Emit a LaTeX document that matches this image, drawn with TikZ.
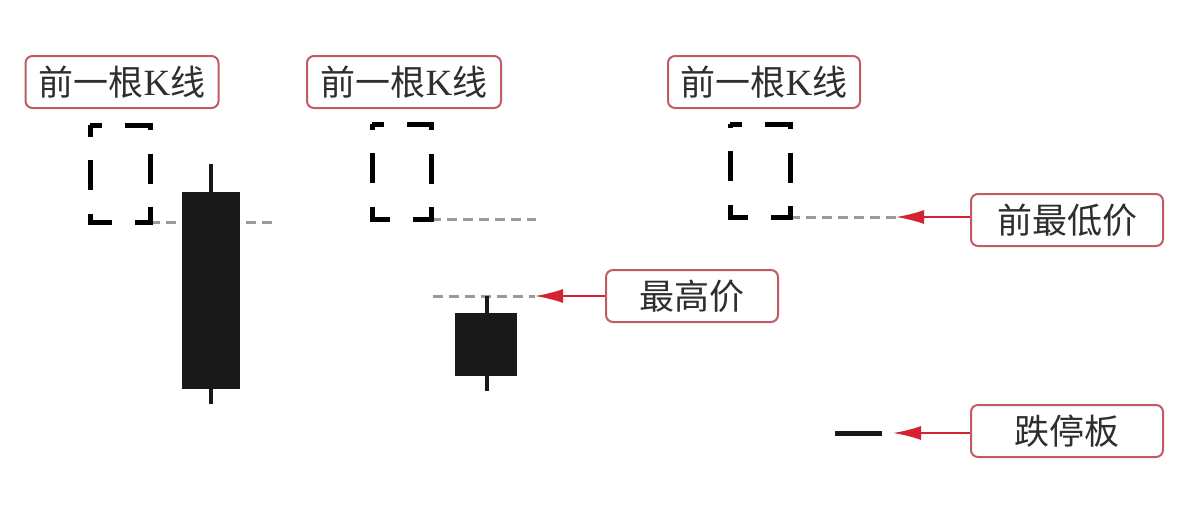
\documentclass[tikz,border=0pt]{standalone}
\usepackage{fontspec}
\setmainfont{Liberation Serif}
\newfontfamily\cjk{Noto Sans CJK SC}
\usetikzlibrary{arrows.meta}
\definecolor{boxred}{HTML}{C25A66}
\definecolor{arrred}{HTML}{D42232}
\definecolor{txtgray}{HTML}{2E2E2E}
\definecolor{dashgray}{HTML}{9A9A9A}
\tikzset{
  lbl/.style={draw=boxred, line width=2pt, rounded corners=7pt, fill=white,
    text=txtgray, inner sep=0pt, font=\cjk\fontsize{35}{38}\selectfont},
  prevbox/.style={line width=5pt, dash pattern=on 30pt off 23.33pt, dash phase=18pt},
  candle/.style={fill=black!90, draw=black!90, line width=1pt, inner sep=0pt},
  wick/.style={line width=4pt, black!90},
  refline/.style={line width=3pt, dashgray, dash pattern=on 10pt off 6pt},
  ptr/.style={line width=2pt, arrred, -{Latex[length=28pt,width=14pt]}},
}
\begin{document}
\begin{tikzpicture}[x=1pt,y=-1pt]
\useasboundingbox (0,0) rectangle (1179,514);
% labels
\node[lbl, minimum width=193pt, minimum height=52pt] (l1) at (122,82) {前一根{\rmfamily\fontsize{37}{38}\selectfont K}线};
\node[lbl, minimum width=194pt, minimum height=52pt] (l2) at (404,82) {前一根{\rmfamily\fontsize{37}{38}\selectfont K}线};
\node[lbl, minimum width=192pt, minimum height=52pt] (l3) at (764,82) {前一根{\rmfamily\fontsize{37}{38}\selectfont K}线};
\node[lbl, minimum width=172pt, minimum height=52pt] (hi) at (692,296) {最高价};
\node[lbl, minimum width=192pt, minimum height=52pt] (low) at (1067,220) {前最低价};
\node[lbl, minimum width=192pt, minimum height=52pt] (stop) at (1067,431) {跌停板};

% panel 1
\coordinate (g1a) at (150,222);
\coordinate (g1b) at (276,222);
\draw[refline] (g1a) -- (g1b);
\draw[prevbox] (90,125) -- (150,125) -- (150,222) -- (90,222) -- cycle;
\coordinate (w1t) at (211,164);
\coordinate (w1b) at (211,404);
\draw[wick] (w1t) -- (w1b);
\node[candle, minimum width=57pt, minimum height=196pt] (c1) at (211,290.5) {};

% panel 2
\coordinate (g2a) at (431,219);
\coordinate (g2b) at (536,219);
\draw[refline] (g2a) -- (g2b);
\draw[prevbox] (372,124) -- (431,124) -- (431,219) -- (372,219) -- cycle;
\coordinate (g3a) at (433,296);
\coordinate (g3b) at (535,296);
\draw[refline] (g3a) -- (g3b);
\coordinate (w2t) at (487,296);
\coordinate (w2b) at (487,391);
\draw[wick] (w2t) -- (w2b);
\node[candle, minimum width=61pt, minimum height=62pt] (c2) at (486,344) {};
\draw[ptr] (hi.west |- g3b) -- (g3b);

% panel 3
\coordinate (g4a) at (790,217);
\coordinate (g4b) at (896,217);
\draw[refline] (g4a) -- (g4b);
\draw[prevbox] (730,124) -- (790,124) -- (790,217) -- (730,217) -- cycle;
\draw[ptr] (low.west |- g4b) -- (g4b);

% limit-down bar
\coordinate (sa) at (835,433);
\coordinate (sb) at (882,433);
\draw[line width=5pt, black!90] (sa) -- (sb);
\coordinate (st) at (893,433);
\draw[ptr] (stop.west |- st) -- (st);
\end{tikzpicture}
\end{document}
